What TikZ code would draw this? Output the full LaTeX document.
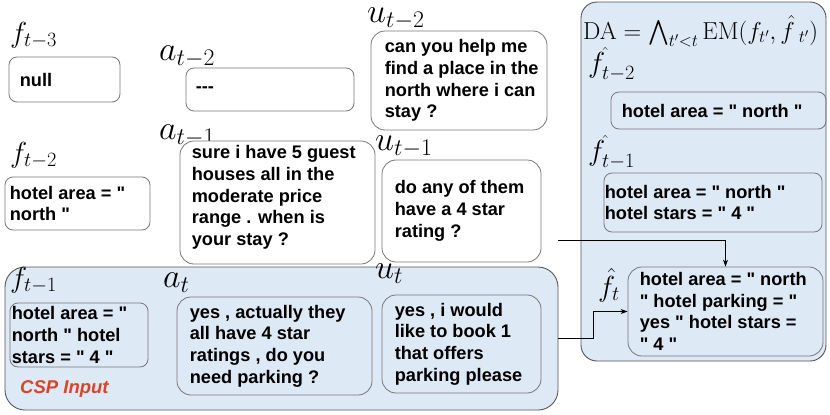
\RequirePackage{fix-cm}
\documentclass[tikz,border=0pt]{standalone}
\usepackage{exscale}
\usepackage[no-math]{fontspec}
\newfontfamily\lib{Liberation Sans}
\usetikzlibrary{arrows.meta,calc,fit}
\definecolor{panel}{HTML}{DEE9F6}
\definecolor{edge}{HTML}{555555}
\definecolor{inner}{HTML}{777777}
\definecolor{cspred}{HTML}{D9432B}
\begin{document}
\begin{tikzpicture}[x=1pt,y=-1pt,
 box/.style={draw=inner, line width=0.8pt, rounded corners=8pt, inner sep=0pt},
 bigbox/.style={box, rounded corners=14pt},
 panelbox/.style={draw=edge, fill=panel, line width=0.9pt, rounded corners=16pt, inner sep=0pt},
 txt/.style={anchor=west, align=left, inner sep=0pt, font=\lib\fontsize{18.2}{21.7}\selectfont\bfseries},
 lab/.style={anchor=base west, inner sep=0pt, font=\fontsize{34}{34}\selectfont},
 flab/.style={anchor=base west, inner sep=0pt, font=\fontsize{29}{29}\selectfont},
 arr/.style={draw=black, line width=1pt, -{Stealth[length=7pt,width=5pt]}}]
\useasboundingbox (0,0) rectangle (830,415);

% panels
\node[panelbox, fit={(581,2) (826,361)}] (da) {};
\node[panelbox, rounded corners=20pt, fit={(5,267) (558,410)}] (csp) {};

% labels
\node[flab] (lft3) at (10,42) {$f_{t-3}$};
\node[lab] (lat2) at (159,60) {$a_{t-2}$};
\node[lab] (lat1) at (159,139) {$a_{t-1}$};
\node[lab] (lut2) at (367,22) {$u_{t-2}$};
\node[lab] (lut1) at (375,150) {$u_{t-1}$};
\node[flab] (lft2) at (10,162) {$f_{t-2}$};
\node[flab] (lft1) at (10,287) {$f_{t-1}$};
\node[lab] (lat) at (163,287) {$a_t$};
\node[lab] (lut) at (375,278) {$u_t$};
\node[flab] (lfh2) at (588,72) {$f^{\hat{}}_{t-2}$};
\node[flab] (lfh1) at (588,160) {$f^{\hat{}}_{t-1}$};
\node[flab] (lfh) at (598,296) {$\hat{f}_t$};
\node[anchor=base west, inner sep=0pt, font=\fontsize{24.5}{24.5}\selectfont] (daf) at (583,39)
  {$\mathrm{DA}=\bigwedge_{t'<t}\mathrm{EM}(f_{t'},\hat{f}\,_{t'})$};

% boxes outside panels
\node[box, fill=white, fit={(9,57) (120,102)}] (null) {};
\node[txt] (tnull) at ($(null.west)+(11,0)$) {null};
\node[box, fill=white, fit={(186,68) (354,111)}] (dash) {};
\node[txt] (tdash) at ($(dash.west)+(10,0)$) {-{}-{}-};
\node[bigbox, fill=white, fit={(371,31) (547,130)}] (ut2) {};
\node[txt] (tut2) at ($(ut2.west)+(14,0)$) {can you help me\\find a place in the\\north where i can\\stay ?};
\node[bigbox, fill=white, fit={(180,141) (375,264)}] (at1) {};
\node[txt] (tat1) at ($(at1.west)+(12,-5)$) {sure i have 5 guest\\houses all in the\\moderate price\\range . when is\\your stay ?};
\node[bigbox, fill=white, fit={(382,160) (541,262)}] (ut1) {};
\node[txt] (tut1) at ($(ut1.west)+(13,0)$) {do any of them\\have a 4 star\\rating ?};
\node[box, fill=white, fit={(5,177) (150,230)}] (ft2) {};
\node[txt] (tft2) at ($(ft2.west)+(5,0)$) {hotel area = "\\north "};

% boxes in CSP panel
\node[box, fit={(10,303) (148,367)}] (ft1) {};
\node[txt] (tft1) at ($(ft1.west)+(2,0)$) {hotel area = "\\north " hotel\\stars = " 4 "};
\node[bigbox, fit={(177,297) (372,395)}] (at) {};
\node[txt] (tat) at ($(at.west)+(13,0)$) {yes , actually they\\all have 4 star\\ratings , do you\\need parking ?};
\node[bigbox, fit={(382,295) (541,393)}] (ut) {};
\node[txt] (tut) at ($(ut.west)+(13,0)$) {yes , i would\\like to book 1\\that offers\\parking please};
\node[txt, anchor=base west, font=\lib\fontsize{18.5}{21.7}\selectfont\bfseries\itshape, text=cspred] (cspl) at (20,393) {CSP Input};

% boxes in DA panel
\node[box, fit={(611,92) (826,129)}] (fh2) {};
\node[txt] (tfh2) at ($(fh2.west)+(11,0)$) {hotel area = " north "};
\node[box, fit={(604,173) (822,232)}] (fh1) {};
\node[txt] (tfh1) at ($(fh1.west)+(1,0)$) {hotel area = " north "\\hotel stars = " 4 "};
\node[bigbox, fit={(628,267) (823,356)}] (fht) {};
\node[txt] (tfht) at ($(fht.west)+(12,0)$) {hotel area = " north\\" hotel parking = "\\yes " hotel stars =\\" 4 "};

% connectors
\draw[arr] (csp.east) -- ++(35,0) |- (fht.west);
\coordinate (src) at (558,240);
\draw[arr] (src) -| (fht.north);
\end{tikzpicture}
\end{document}
